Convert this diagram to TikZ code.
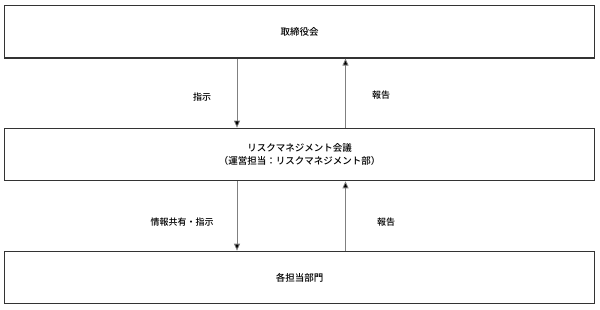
\documentclass[tikz,border=0pt]{standalone}
\usepackage{fontspec}
\setmainfont{Noto Sans CJK JP}[UprightFont=* Medium]
\usetikzlibrary{arrows.meta}

\tikzset{
	levelbox/.style={draw=black!80, line width=1.1pt, minimum width=590pt, minimum height=52.5pt, inner sep=0pt, font=\fontsize{9.5}{13}\selectfont, align=center},
	flow/.style={draw=black!50, line width=0.8pt, -{Triangle[length=7pt,width=6pt,fill=black]}},
	flowlabel/.style={font=\fontsize{9}{11}\selectfont}
}

\begin{document}
\begin{tikzpicture}[x=1pt, y=-1pt]
		\useasboundingbox (0,0) rectangle (600,310);
		\node[levelbox] (board) at (299.5,31.75) {取締役会};
		\node[levelbox] (council) at (299.5,154.5) {リスクマネジメント会議\\（運営担当：リスクマネジメント部）};
		\node[levelbox] (depts) at (299.5,277.5) {各担当部門};
		
		\coordinate (down) at (237,0);
		\coordinate (up) at (345.5,0);
		
		\draw[flow] (board.south -| down) -- (council.north -| down);
		\draw[flow] (council.north -| up) -- (board.south -| up);
		\draw[flow] (council.south -| down) -- (depts.north -| down);
		\draw[flow] (depts.north -| up) -- (council.south -| up);
		
		\node[flowlabel] (order) at (202,97) {指示};
		\node[flowlabel] (report) at (381,95) {報告};
		\node[flowlabel] (share) at (182,222) {情報共有・指示};
		\node[flowlabel] (reportlow) at (386,222) {報告};
	\end{tikzpicture}
\end{document}
